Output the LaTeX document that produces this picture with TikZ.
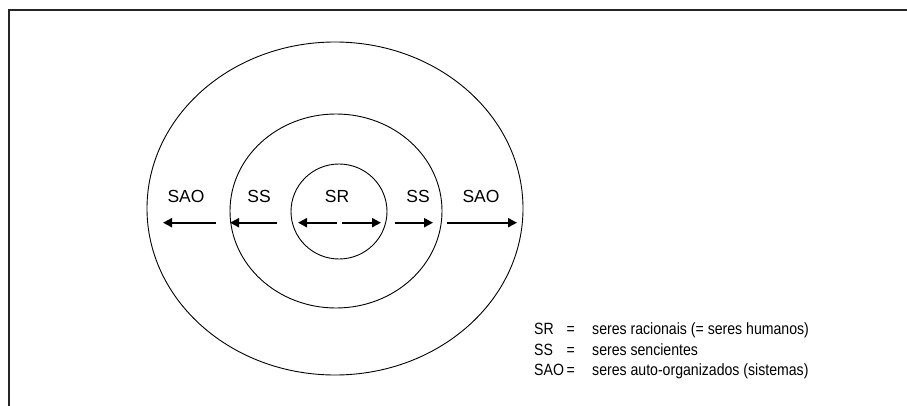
\documentclass[tikz,border=0pt]{standalone}
\usepackage{fontspec}
\setmainfont{Liberation Sans}
\newfontfamily\narrowfont{Liberation Sans}[FakeStretch=0.865]
\usetikzlibrary{arrows.meta}
\begin{document}
\begin{tikzpicture}[x=1pt,y=-1pt,
  ring/.style={draw=black,line width=0.9pt},
  frame/.style={draw=black!85,line width=1.6pt},
  arr/.style={line width=2pt,-{Triangle[length=9pt,width=9pt]}},
  lab/.style={font=\fontsize{17.5}{20}\selectfont,inner sep=0pt,anchor=base},
  leg/.style={font=\narrowfont\fontsize{16.3}{19}\selectfont,inner sep=0pt,anchor=base west}]
\useasboundingbox (0,0) rectangle (907,406);
% frame
\coordinate (fbl) at (9,406);
\coordinate (ftl) at (9,10);
\coordinate (ftr) at (907,10);
\draw[frame] (fbl) -- (ftl) -- (ftr);
% rings
\draw[ring] (335,208.5) ellipse [x radius=188, y radius=166.5];
\draw[ring] (336,211) ellipse [x radius=106, y radius=97];
\draw[ring] (339,211.5) ellipse [x radius=48, y radius=47.5];
% labels
\node[lab] (saoL) at (186,202.5) {SAO};
\node[lab] (ssL)  at (259,202.5) {SS};
\node[lab] (sr)   at (337,202.5) {SR};
\node[lab] (ssR)  at (418,202.5) {SS};
\node[lab] (saoR) at (481,202.5) {SAO};
% arrows
\coordinate (a1s) at (216,222.7); \coordinate (a1e) at (163,222.7);
\coordinate (a2s) at (277,222.7); \coordinate (a2e) at (230,222.7);
\coordinate (a3s) at (337,222.7); \coordinate (a3e) at (298,222.7);
\coordinate (a4s) at (342,222.7); \coordinate (a4e) at (381,222.7);
\coordinate (a5s) at (395,222.7); \coordinate (a5e) at (433,222.7);
\coordinate (a6s) at (447,222.7); \coordinate (a6e) at (517,222.7);
\foreach \s/\e in {a1s/a1e,a2s/a2e,a3s/a3e,a4s/a4e,a5s/a5e,a6s/a6e}
  \draw[arr] (\s) -- (\e);
% legend
\node[leg] (l1a) at (534,334) {SR};
\node[leg] (l1b) at (566.5,334) {=};
\node[leg] (l1c) at (592,334) {seres racionais (= seres humanos)};
\node[leg] (l2a) at (534,355) {SS};
\node[leg] (l2b) at (566.5,355) {=};
\node[leg] (l2c) at (592,355) {seres sencientes};
\node[leg] (l3a) at (534,375) {SAO};
\node[leg] (l3b) at (566.5,375) {=};
\node[leg] (l3c) at (592,375) {seres auto-organizados (sistemas)};
\end{tikzpicture}
\end{document}
